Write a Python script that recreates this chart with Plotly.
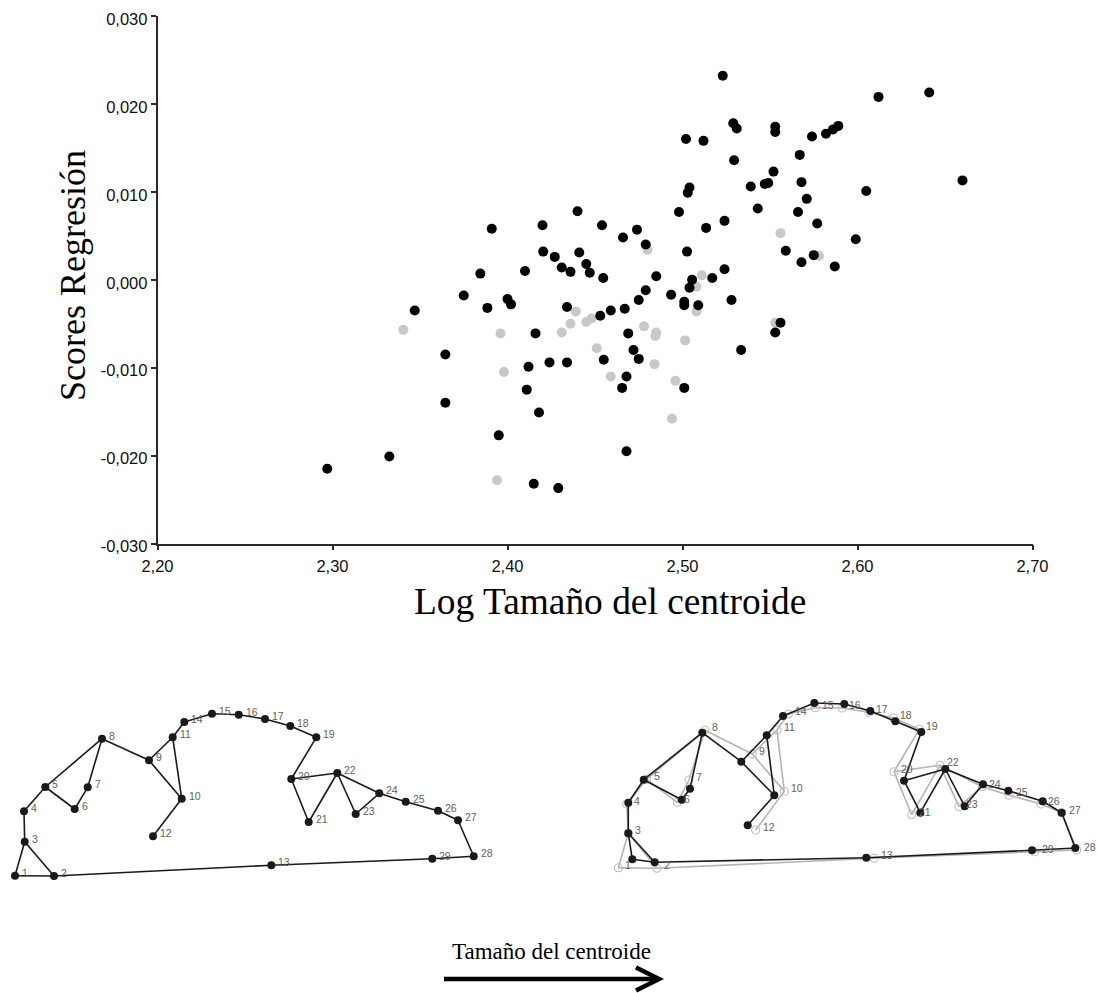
import plotly.graph_objects as go

# ---------- scatter data ----------
black_x = [2.297,2.3325,2.347,2.3645,2.3645,2.375,2.3845,2.3885,2.391,2.395,2.400,2.402,2.410,2.411,2.412,2.415,2.416,2.418,2.420,2.4204,
           2.424,2.427,2.429,2.431,2.434,2.434,2.436,2.440,2.441,2.445,2.447,2.453,2.454,2.4547,2.455,2.459,2.4655,2.466,2.467,2.468,
           2.468,2.469,2.472,2.474,2.475,2.475,2.479,2.479,2.485,2.4935,2.498,2.501,2.501,2.501,2.502,2.5026,2.503,2.504,2.504,2.5055,
           2.509,2.512,2.5135,2.517,2.523,2.524,2.524,2.528,2.529,2.5295,2.531,2.5335,2.539,2.543,2.547,2.549,2.552,2.553,2.553,2.553,
           2.556,2.559,2.566,2.567,2.568,2.568,2.571,2.574,2.575,2.577,2.582,2.586,2.587,2.589,2.599,2.605,2.612,2.641,2.660]
black_y = [-.0215,-.0201,-.0035,-.0085,-.0140,-.0018,.0007,-.0032,.0058,-.0177,-.0022,-.0028,.0010,-.0125,-.0099,-.0232,-.0061,-.0151,.0062,.0032,
           -.0094,.0026,-.0237,.0014,-.0094,-.0031,.0009,.0078,.0031,.0018,.0008,-.0041,.0062,.0002,-.0091,-.0035,-.0123,.0048,-.0033,-.0110,
           -.0195,-.0061,-.0080,.0057,-.0090,-.0023,-.0012,.0040,.0004,-.0017,.0077,-.0025,-.0029,-.0123,.0160,.0032,.0099,.0105,-.0009,.0000,
           -.0029,.0158,.0059,.0002,.0232,.0067,.0012,-.0023,.0178,.0136,.0172,-.0080,.0106,.0081,.0109,.0110,.0123,-.0060,.0174,.0168,
           -.0049,.0033,.0077,.0142,.0020,.0111,.0092,.0163,.0028,.0064,.0166,.0171,.0015,.0175,.0046,.0101,.0208,.0213,.0113]
grey_x = [2.3405,2.396,2.398,2.394,2.431,2.436,2.439,2.445,2.448,2.451,2.459,2.478,2.485,2.4845,2.484,2.496,2.494,2.5015,2.480,2.511,2.508,2.508,2.556,2.553,2.578]
grey_y = [-.0057,-.0061,-.0105,-.0228,-.0060,-.0050,-.0036,-.0048,-.0044,-.0078,-.0110,-.0053,-.0060,-.0064,-.0096,-.0115,-.0158,-.0069,.0034,.0005,-.0008,-.0036,.0053,-.0049,.0027]

x_ticks = [2.2,2.3,2.4,2.5,2.6,2.7]
x_tick_labels = ["2,20","2,30","2,40","2,50","2,60","2,70"]
y_ticks = [-.03,-.02,-.01,0,.01,.02,.03]
y_tick_labels = ["-0,030","-0,020","-0,010","0,000","0,010","0,020","0,030"]

# ---------- landmark configurations ----------
landmark_ids = list(range(1,30))
left_x = [15,54,24.7,24,45.3,74.7,87.7,102,149,181.7,172.7,153,271.3,184.3,212,238.7,265,290.3,316.3,291.3,308.7,337.3,355.7,379.3,405.7,438,458,473.7,432.3]
left_y = [185.7,186,151.7,121.3,97,119,97.3,48.7,70.3,108.7,47.3,146.3,175.3,32,23.7,24.7,29,36,47.3,89,132,83,124,103.3,111.7,120.7,130.3,166.3,168.7]
large_x = [32.3,54.7,28.3,28.3,43.7,81.7,90,102.3,141.3,174.3,166.7,147.7,266.3,183,214.3,244.3,270.3,295.3,321.3,304,320.3,345.3,364.7,383,408.3,442.7,461.7,475.3,432]
large_y = [169.3,172.3,143.3,112.7,89.7,109.7,98.7,42.7,71.7,105.3,45.3,135.3,167.7,26,13,14,21,31.3,42,90.7,122.7,79,116.3,94.3,100.7,111.3,122.7,158,160.3]
mean_x = [18.3,57,28.3,26.7,46.7,77.3,89,105,152.3,184.3,177,155.7,274,188.3,215.3,242,268.7,293.3,319.3,294,311.7,340,359,382.3,409,441,461.7,476.7,434.7]
mean_y = [177.7,178.3,143.3,114,89.3,112.3,90,40.3,64,101.3,40,140,168.3,24,17.7,18,22.3,28,39.3,81.7,124.7,75.3,116.7,96.7,105.3,114,122.7,160,161.7]
edges = [(1,2),(1,3),(2,3),(3,4),(4,5),(5,6),(6,7),(7,8),(5,8),(8,9),(9,10),(9,11),(10,11),(10,12),(11,14),(14,15),(15,16),(16,17),
         (17,18),(18,19),(19,20),(20,21),(20,22),(21,22),(22,23),(22,24),(23,24),(24,25),(25,26),(26,27),(27,28),(28,29),(29,13),(13,2)]

W, H = 1097, 993
INK = "#1a1a1a"
LABEL = "#5f5f5f"
AXIS = "#2a2a2a"


def edge_path(xs, ys):
    px, py = [], []
    for a, b in edges:
        px += [xs[a-1], xs[b-1], None]
        py += [ys[a-1], ys[b-1], None]
    return px, py


fig = go.Figure()
fig.add_trace(go.Scatter(x=grey_x, y=grey_y, mode="markers", name="grey",
                         marker=dict(size=10, color="#c8c8c8")))
fig.add_trace(go.Scatter(x=black_x, y=black_y, mode="markers", name="black",
                         marker=dict(size=10, color="#000000")))

lx, ly = edge_path(left_x, left_y)
fig.add_trace(go.Scatter(x=lx, y=ly, mode="lines", xaxis="x2", yaxis="y2", line=dict(color=INK, width=1.6)))
fig.add_trace(go.Scatter(x=left_x, y=left_y, mode="markers", xaxis="x2", yaxis="y2", marker=dict(size=8, color=INK)))

mx, my = edge_path(mean_x, mean_y)
fig.add_trace(go.Scatter(x=mx, y=my, mode="lines", xaxis="x3", yaxis="y3", line=dict(color="#b4b4b4", width=1.6)))
fig.add_trace(go.Scatter(x=mean_x, y=mean_y, mode="markers", xaxis="x3", yaxis="y3",
                         marker=dict(size=8, symbol="circle-open", color="#bdbdbd", line=dict(width=1.1))))
bx, by = edge_path(large_x, large_y)
fig.add_trace(go.Scatter(x=bx, y=by, mode="lines", xaxis="x3", yaxis="y3", line=dict(color=INK, width=1.6)))
fig.add_trace(go.Scatter(x=large_x, y=large_y, mode="markers", xaxis="x3", yaxis="y3", marker=dict(size=8, color=INK)))

annotations = []
for i, n in enumerate(landmark_ids):
    annotations.append(dict(x=left_x[i], y=left_y[i], xref="x2", yref="y2", text=str(n), showarrow=False,
                            xanchor="left", yanchor="middle", xshift=5, yshift=3,
                            font=dict(family="Liberation Sans", size=10.5, color=LABEL)))
    annotations.append(dict(x=mean_x[i], y=mean_y[i], xref="x3", yref="y3", text=str(n), showarrow=False,
                            xanchor="left", yanchor="middle", xshift=5, yshift=3,
                            font=dict(family="Liberation Sans", size=10.5, color=LABEL)))


def px_x(v):
    return v / W


def px_y(v):
    return 1 - v / H


SERIF = "Liberation Serif"
annotations += [
    dict(x=px_x(609.5), y=px_y(601), xref="paper", yref="paper", text="Log Tamaño del centroide", showarrow=False,
         xanchor="center", yanchor="middle", font=dict(family=SERIF, size=37.4, color="#000000")),
    dict(x=px_x(73), y=px_y(276), xref="paper", yref="paper", text="Scores Regresión", showarrow=False, textangle=-90,
         xanchor="center", yanchor="middle", font=dict(family=SERIF, size=36, color="#000000")),
    dict(x=px_x(551), y=px_y(951), xref="paper", yref="paper", text="Tamaño del centroide", showarrow=False,
         xanchor="center", yanchor="middle", font=dict(family=SERIF, size=23, color="#000000")),
]

shapes = [
    dict(type="line", xref="paper", yref="paper", x0=px_x(444), y0=px_y(979), x1=px_x(655), y1=px_y(979),
         line=dict(color="#000000", width=4.5)),
    dict(type="path", xref="paper", yref="paper",
         path=f"M {px_x(636)} {px_y(967.5)} L {px_x(659)} {px_y(979)} L {px_x(636)} {px_y(990.5)}",
         line=dict(color="#000000", width=4.5)),
]

axis_font = dict(family="Liberation Sans", size=16.5, color="#111111")
hidden = dict(visible=False, showgrid=False, zeroline=False, automargin=False)
fig.update_layout(
    width=W, height=H, autosize=False, showlegend=False,
    margin=dict(l=0, r=0, t=0, b=0, pad=0), paper_bgcolor="white", plot_bgcolor="white",
    annotations=annotations, shapes=shapes,
    xaxis=dict(domain=[157.5/W, 1032.5/W], range=[2.2, 2.7], tickvals=x_ticks, ticktext=x_tick_labels, automargin=False,
               ticks="outside", ticklen=5, tickwidth=1.5, tickcolor=AXIS, showline=True, linewidth=1.5,
               linecolor=AXIS, showgrid=False, zeroline=False, tickfont=axis_font, anchor="y", ticklabelstandoff=2),
    yaxis=dict(domain=[1-543.5/H, 1-16/H], range=[-.03, .03], tickvals=y_ticks, ticktext=y_tick_labels, automargin=False,
               ticks="outside", ticklen=5, tickwidth=1.5, tickcolor=AXIS, showline=True, linewidth=1.5,
               linecolor=AXIS, showgrid=False, zeroline=False, tickfont=axis_font, anchor="x", ticklabelshift=3),
    xaxis2=dict(domain=[0, 500/W], range=[0, 500], anchor="y2", **hidden),
    yaxis2=dict(domain=[1-890/H, 1-690/H], range=[200, 0], anchor="x2", **hidden),
    xaxis3=dict(domain=[600/W, 1097/W], range=[0, 497], anchor="y3", **hidden),
    yaxis3=dict(domain=[1-890/H, 1-690/H], range=[200, 0], anchor="x3", **hidden),
)

fig.write_html("out.html", config={"displayModeBar": False}, post_script="document.body.style.margin='0';")
